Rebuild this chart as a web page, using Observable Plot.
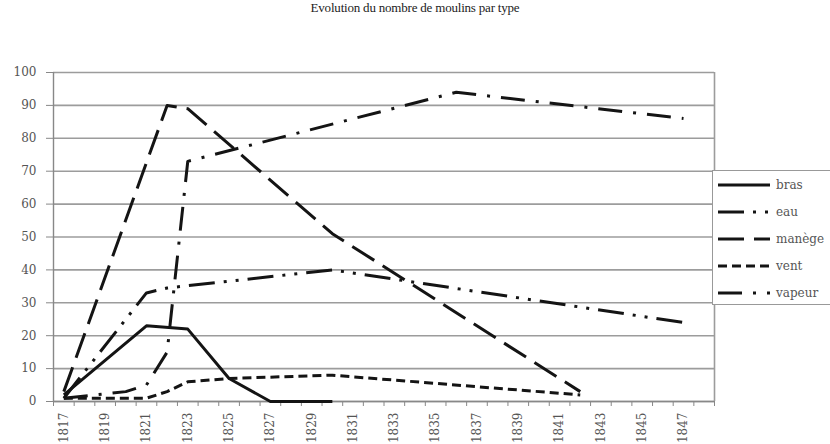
<!DOCTYPE html>
<html><head><meta charset="utf-8">
<script src="https://cdn.jsdelivr.net/npm/d3@7"></script>
<script src="https://cdn.jsdelivr.net/npm/@observablehq/plot@0.6"></script>
<style>
body{margin:0;background:#fff;width:830px;height:444px;overflow:hidden;position:relative;}
#title{height:40px;line-height:40px;text-align:center;font:13px "Liberation Serif",serif;color:#222;letter-spacing:-0.2px;}
#legend{position:absolute;left:712px;top:170px;width:140px;height:135px;border:1px solid #999;background:#fff;box-sizing:border-box;}
.row{position:absolute;left:5px;height:20px;display:flex;align-items:center;font:12px "DejaVu Serif",serif;color:#555;}
.row svg{display:block;margin-right:3px;}
</style></head><body>
<div id="title">Evolution du nombre de moulins par type</div>
<div id="chart"></div>
<div id="legend"></div>
<script>
// ---- data ----
const seriesNames = ["bras", "eau", "manège", "vent", "vapeur"];
const yTicks = [0, 10, 20, 30, 40, 50, 60, 70, 80, 90, 100];
const xLabels = [1817, 1819, 1821, 1823, 1825, 1827, 1829, 1831, 1833, 1835, 1837, 1839, 1841, 1843, 1845, 1847];
const firstYear = 1817, lastYear = 1848;

const brasYears = [1817, 1821, 1823, 1825, 1827, 1830];
const brasValues = [2, 23, 22, 7, 0, 0];
const eauYears = [1817, 1821, 1822, 1830, 1847];
const eauValues = [1, 33, 34.5, 40, 24];
const manegeYears = [1817, 1822, 1823, 1830, 1842];
const manegeValues = [3, 90, 89, 51, 3];
const ventYears = [1817, 1821, 1822, 1823, 1825, 1830, 1842];
const ventValues = [1, 1, 3, 6, 7, 8, 2];
const vapeurYears = [1817, 1820, 1821, 1822, 1823, 1836, 1847];
const vapeurValues = [1, 3, 5, 15, 73, 94, 86];

const dashes = ["none", "26,9,3,9,3,9", "26,10", "9,5", "24,11,3,11"];
const lineColor = "#141414";

const seriesYears = [brasYears, eauYears, manegeYears, ventYears, vapeurYears];
const seriesValues = [brasValues, eauValues, manegeValues, ventValues, vapeurValues];
const tables = seriesNames.map((name, i) => seriesYears[i].map((yr, j) => ({series: name, year: yr, value: seriesValues[i][j]})));

const bounds = d3.range(firstYear - 0.5, lastYear + 1, 1);

const chart = Plot.plot({
  width: 830, height: 404,
  marginLeft: 53, marginRight: 116, marginTop: 32, marginBottom: 43,
  x: {domain: [firstYear - 0.5, lastYear + 0.5], label: null},
  y: {domain: [0, 100], label: null},
  style: {fontFamily: "DejaVu Serif, serif", fontSize: "12px", color: "#555", background: "#fff"},
  marks: [
    Plot.ruleY(yTicks, {stroke: "#9c9c9c", strokeWidth: 1.6}),
    Plot.ruleX([lastYear + 0.5], {stroke: "#9c9c9c", strokeWidth: 1.6}),
    Plot.ruleX([firstYear - 0.5], {stroke: "#888", strokeWidth: 1.4}),
    Plot.axisY({ticks: yTicks, tickSize: 7, tickPadding: 10, stroke: "#888", fill: "#555", tickFormat: d => String(d)}),
    Plot.axisX({ticks: bounds, tickSize: 5, tickFormat: () => "", stroke: "#888"}),
    Plot.axisX({ticks: xLabels, tickSize: 0, tickPadding: 11, tickRotate: -90, fill: "#555", tickFormat: d => String(d)}),
    Plot.ruleY([0], {stroke: "#888", strokeWidth: 1.6}),
    ...tables.map((t, i) => Plot.line(t, {x: "year", y: "value", stroke: lineColor, strokeWidth: 3,
      strokeDasharray: dashes[i] === "none" ? undefined : dashes[i], strokeLinecap: "butt", strokeLinejoin: "round"}))
  ]
});
document.getElementById("chart").appendChild(chart);

// legend
const legend = d3.select("#legend");
seriesNames.forEach((name, i) => {
  const row = legend.append("div").attr("class", "row").style("top", (4 + i * 27) + "px");
  const s = row.append("svg").attr("width", 55).attr("height", 20);
  const l = s.append("line").attr("x1", 0).attr("x2", 52).attr("y1", 10).attr("y2", 10)
    .attr("stroke", lineColor).attr("stroke-width", 3);
  if (dashes[i] !== "none") l.attr("stroke-dasharray", dashes[i]);
  row.append("span").text(name);
});
</script>
</body></html>
